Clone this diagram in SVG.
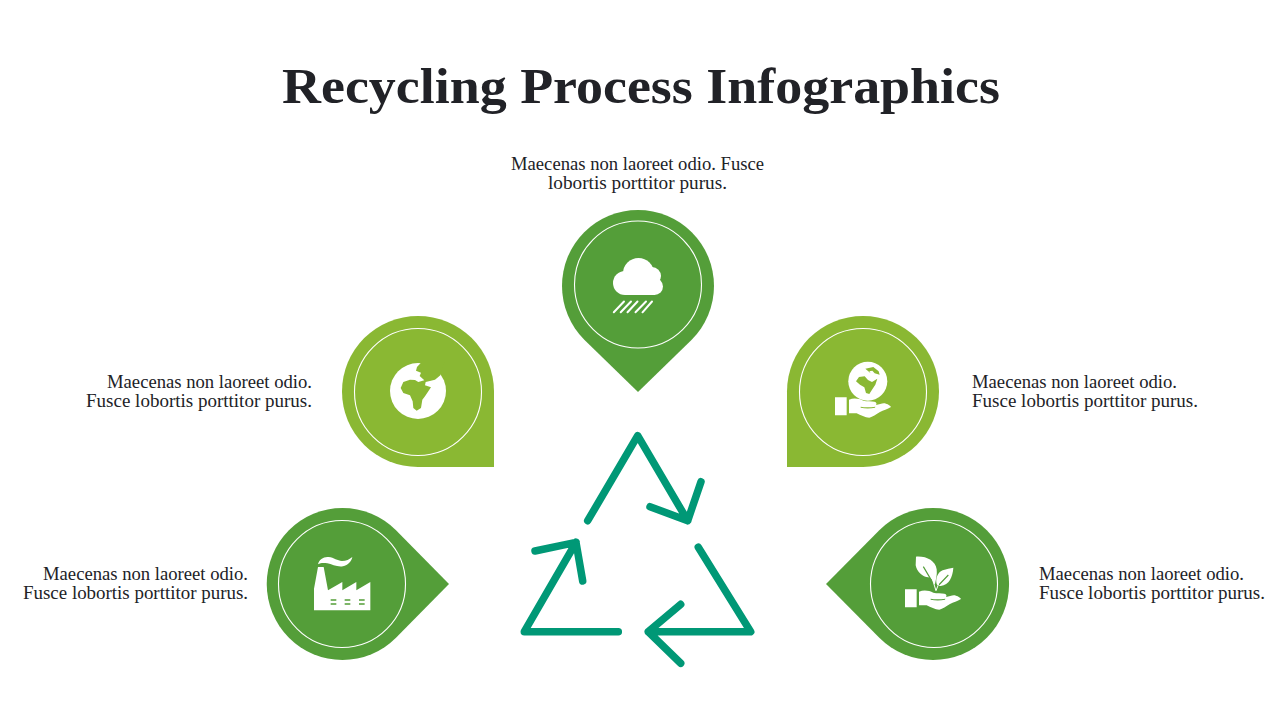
<svg xmlns="http://www.w3.org/2000/svg" xmlns:xlink="http://www.w3.org/1999/xlink" width="1280" height="720" viewBox="0 0 1280 720">
<style>
.title{font-family:"Liberation Serif",serif;font-weight:700;font-size:51px;fill:#212227}
.body{font-family:"Liberation Serif",serif;font-size:18px;fill:#212227}
.g{fill:#549e39}
.l{fill:#8ab833}
.ring{fill:none;stroke:#fff;stroke-width:1.1}
.w{fill:#fff}
.arrow{fill:none;stroke:#009876;stroke-width:7.5;stroke-linecap:round;stroke-linejoin:round}
</style>
<defs>
<path id="hand" class="w" fill-rule="evenodd" d="M15,118H50V172H15ZM57,125C72,119 88,122 100,128C110,131 125,129 133,131C140,133 141,137 138,141C150,139 158,134 168,137C175,139 181,143 183,147C172,153 160,157 150,162C138,169 128,177 118,179C105,179 92,171 80,166H57ZM92,146C105,149 122,148 136,146L135,149C122,152 105,152 92,149Z"/>
</defs>
<text class="title" x="641" y="103" text-anchor="middle" textLength="718" lengthAdjust="spacingAndGlyphs">Recycling Process Infographics</text>

<g id="connectors">
<path class="arrow" d="M587.7,520.7L637.7,435.7L687.7,520.7M650,506.7L687.7,520.7L701,481.7"/>
<path class="arrow" d="M698.3,547.3L750.7,631.7L648.3,631.7M680.7,604.3L648.3,631.7L680.7,663.3"/>
<path class="arrow" d="M618.3,631.7L524.3,631.7L576,542.3M535,551L576,542.3L582.7,581"/>
</g>

<g id="node-top">
<path class="g" d="M638,392L584.3,339.7A76,76 0 1 1 691.7,339.7Z"/>
<circle class="ring" cx="638" cy="284.5" r="63.5"/>
<g class="w">
<circle cx="638.5" cy="273.5" r="15.5"/>
<circle cx="625" cy="283" r="12"/>
<circle cx="652" cy="276" r="9"/>
<circle cx="654.5" cy="286.5" r="8.5"/>
<rect x="625" y="276" width="30" height="19"/>
</g>
<path d="M613.8,312.3L624,301.5M620.7,312.3L631,301.5M627.5,312.3L637.5,301.5M635.5,312.3L646,301.5M642.5,312.3L652,301.5" stroke="#fff" stroke-width="2" stroke-linecap="round" fill="none"/>
<text class="body" x="637.5" y="170" text-anchor="middle" textLength="253" lengthAdjust="spacingAndGlyphs">Maecenas non laoreet odio. Fusce</text>
<text class="body" x="637.5" y="189" text-anchor="middle" textLength="179" lengthAdjust="spacingAndGlyphs">lobortis porttitor purus.</text>
</g>

<g id="node-left-upper">
<path class="l" d="M494,467H418A76,75.5 0 1 1 494,391.5Z"/>
<circle class="ring" cx="418" cy="392" r="63.5"/>
<circle class="w" cx="418" cy="391" r="28"/>
<g transform="translate(385,358) scale(.33333)">
<path class="l" d="M110,12L96,27L93,38L108,44L104,54L118,67L100,72L90,66L75,65L55,72L47,90L55,105L75,112L83,130L85,150L95,158L108,150L112,125L120,115L130,100L138,88L120,82L122,72L150,65L166,52L178,12Z"/>
</g>
<text class="body" x="312" y="388" text-anchor="end" textLength="205" lengthAdjust="spacingAndGlyphs">Maecenas non laoreet odio.</text>
<text class="body" x="312" y="407" text-anchor="end" textLength="226" lengthAdjust="spacingAndGlyphs">Fusce lobortis porttitor purus.</text>
</g>

<g id="node-right-upper">
<path class="l" d="M787,467H863A76,75.5 0 1 0 787,391.5Z"/>
<circle class="ring" cx="863" cy="392" r="63.5"/>
<circle class="w" cx="867.8" cy="381.3" r="19.5"/>
<g transform="translate(830,358) scale(.33333)">
<path class="l" d="M106,32L130,27L146,40L149,50L134,46L127,38L118,40L122,46ZM78,70L87,57L104,55L114,66L126,72L142,62L136,80L126,95L118,108L108,105L103,88L90,80Z"/>
</g>
<use href="#hand" xlink:href="#hand" transform="translate(830,358) scale(.33333)"/>
<text class="body" x="972" y="388" textLength="205" lengthAdjust="spacingAndGlyphs">Maecenas non laoreet odio.</text>
<text class="body" x="972" y="407" textLength="226" lengthAdjust="spacingAndGlyphs">Fusce lobortis porttitor purus.</text>
</g>

<g id="node-left-lower">
<path class="g" d="M449,584L396,637.7A75.7,76 0 1 1 396,530.3Z"/>
<circle class="ring" cx="342" cy="584" r="63.5"/>
<g transform="translate(308,552) scale(.33333)">
<path class="w" d="M30,45H47L60,115L103,90V115L145,90V115L187,90V175H18V110Z"/>
<path class="w" d="M30,37C33,22 48,13 62,15C78,17 88,26 102,27C114,27 125,22 133,15C131,27 120,40 105,43C88,46 72,37 58,34C47,32 38,32 30,37Z"/>
<path class="g" d="M68,142H85V146H68ZM110,142H127V146H110ZM153,142H170V146H153ZM68,154H85V158H68ZM110,154H127V158H110ZM153,154H170V158H153Z"/>
</g>
<text class="body" x="248" y="580" text-anchor="end" textLength="205" lengthAdjust="spacingAndGlyphs">Maecenas non laoreet odio.</text>
<text class="body" x="248" y="599" text-anchor="end" textLength="225" lengthAdjust="spacingAndGlyphs">Fusce lobortis porttitor purus.</text>
</g>

<g id="node-right-lower">
<path class="g" d="M826,584L879.3,530.3A76,76 0 1 1 879.3,637.7Z"/>
<circle class="ring" cx="934" cy="584" r="63.5"/>
<g transform="translate(900,552) scale(.33333)">
<path class="w" d="M48,14C80,12 106,26 110,52C112,68 108,82 104,100C98,84 92,78 85,76C68,76 50,58 47,40Z"/>
<path class="w" d="M160,47C158,75 148,98 122,102C116,102 112,100 110,96C106,80 112,62 128,55C140,50 150,50 160,47Z"/>
<path d="M70,44L108,108L145,69" fill="none" stroke="#549e39" stroke-width="3.5"/>
<path d="M98,84L108,116L116,96" fill="none" stroke="#fff" stroke-width="3"/>
</g>
<use href="#hand" xlink:href="#hand" transform="translate(900,550) scale(.33333)"/>
<text class="body" x="1039" y="580" textLength="205" lengthAdjust="spacingAndGlyphs">Maecenas non laoreet odio.</text>
<text class="body" x="1039" y="599" textLength="226" lengthAdjust="spacingAndGlyphs">Fusce lobortis porttitor purus.</text>
</g>
</svg>
